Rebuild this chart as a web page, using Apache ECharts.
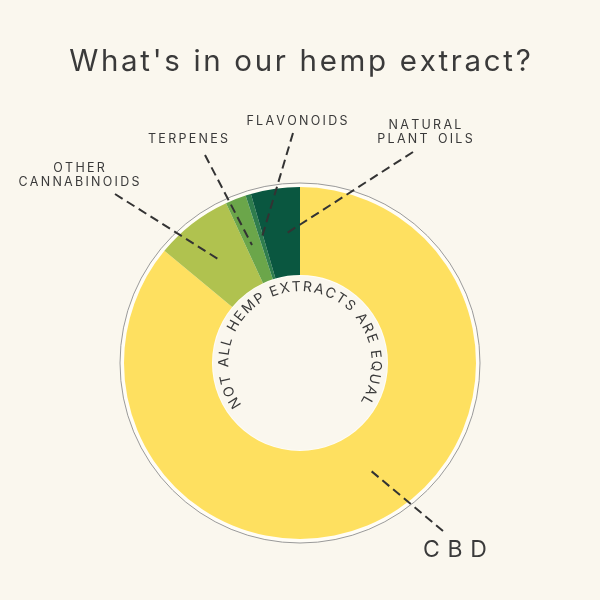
<!DOCTYPE html>
<html><head><meta charset="utf-8">
<script src="https://cdn.jsdelivr.net/npm/echarts@6/dist/echarts.min.js"></script>
<style>html,body{margin:0;padding:0;background:#faf7ee;}#c{width:600px;height:600px;}</style>
</head><body><div id="c"></div>
<script>
const categories = ['CBD', 'OTHER\nCANNABINOIDS', 'TERPENES', 'FLAVONOIDS', 'NATURAL\nPLANT OILS'];
const values = [86.0, 7.1, 1.9, 0.5, 4.5];
const colors = ['#fee060', '#b0c24f', '#6ba64a', '#2f7d4e', '#0a5740'];
const title = "What's in our hemp extract?";
const ringText = 'NOT ALL HEMP EXTRACTS ARE EQUAL';

// label annotation layout (label centre, leader line from label side to inside slice)
const labelLayouts = [
  {x: 455, y: 550, line: [[443, 531], [370, 470]], size: 23, sp: '\u2004'},
  {x: 79, y: 175, line: [[115, 194], [218, 259]], size: 12.5, sp: '\u2009'},
  {x: 188, y: 139, line: [[205, 155], [252, 245]], size: 12.5, sp: '\u2009'},
  {x: 297, y: 121, line: [[293, 133], [262, 237]], size: 12.5, sp: '\u2009'},
  {x: 425, y: 132, line: [[413, 152], [287, 233]], size: 12.5, sp: '\u2009'}
];
function spaced(s, sp) {
  return s.split('\n').map(l => l.split('').map(ch => ch === ' ' ? ' ' + sp : ch).join(sp)).join('\n');
}

const cx = 300, cy = 363;
const chart = echarts.init(document.getElementById('c'));

// circular text
const ctx = document.createElement('canvas').getContext('2d');
const fs = 14;
ctx.font = fs + 'px Inter';
const chars = ringText.split('');
const widths = chars.map(ch => ctx.measureText(ch).width + 1.5);
const total = widths.reduce((a, b) => a + b, 0);
const startA = -121.6, endA = 119.5, rText = 76;
const span = endA - startA;
const ringEls = [];
let acc = 0;
const totalCenters = total - widths[0] / 2 - widths[widths.length - 1] / 2;
chars.forEach((ch, i) => {
  const c = acc + widths[i] / 2 - widths[0] / 2;
  acc += widths[i];
  if (ch === ' ') return;
  const a = (startA + span * c / totalCenters) * Math.PI / 180;
  ringEls.push({
    type: 'text', z: 10,
    x: cx + rText * Math.sin(a), y: cy - rText * Math.cos(a),
    rotation: -a,
    style: {text: ch, font: fs + 'px Inter', fill: '#3a3a3a', align: 'center', verticalAlign: 'middle'}
  });
});

const baseData = categories.map((n, i) => ({name: n, value: values[i], itemStyle: {color: colors[i]}}));

chart.setOption({
  backgroundColor: '#faf7ee',
  title: {text: title.split('').join('\u200A'), left: 'center', top: 42,
    textStyle: {fontFamily: 'Inter', fontWeight: 'normal', fontSize: 29.5, color: '#3a3a3a'}},
  graphic: [
    {type: 'circle', z: 0, shape: {cx: cx, cy: cy, r: 180},
      style: {fill: '#fffdf6', stroke: '#9a9a9a', lineWidth: 1}},
    {type: 'circle', z: 0, shape: {cx: cx, cy: cy, r: 88},
      style: {fill: '#faf7ee', stroke: '#fffdf6', lineWidth: 2}}
  ].concat(ringEls),
  series: [{
    type: 'pie', z: 2,
    center: [cx, cy],
    radius: [88, 176],
    startAngle: 90,
    clockwise: true,
    silent: true,
    itemStyle: {borderWidth: 0},
    label: {show: false},
    labelLine: {show: false},
    data: baseData
  }, {
    type: 'pie', z: 5,
    center: [cx, cy],
    radius: [88, 176],
    startAngle: 90,
    clockwise: true,
    silent: true,
    avoidLabelOverlap: false,
    itemStyle: {color: 'rgba(0,0,0,0)', borderWidth: 0},
    data: categories.map((n, i) => ({
      name: n, value: values[i],
      itemStyle: {color: 'rgba(0,0,0,0)'},
      label: {fontSize: labelLayouts[i].size}
    })),
    label: {
      show: true,
      formatter: p => spaced(p.name, labelLayouts[p.dataIndex].sp),
      fontFamily: 'Inter',
      color: '#3a3a3a',
      lineHeight: 14,
      align: 'center'
    },
    labelLine: {show: true, lineStyle: {color: '#333', width: 2, type: [9, 5]}},
    labelLayout: function (p) {
      const L = labelLayouts[p.dataIndex];
      return {
        x: L.x, y: L.y, align: 'center', verticalAlign: 'middle',
        labelLinePoints: [L.line[0], L.line[0], L.line[1]]
      };
    }
  }]
});
</script></body></html>
